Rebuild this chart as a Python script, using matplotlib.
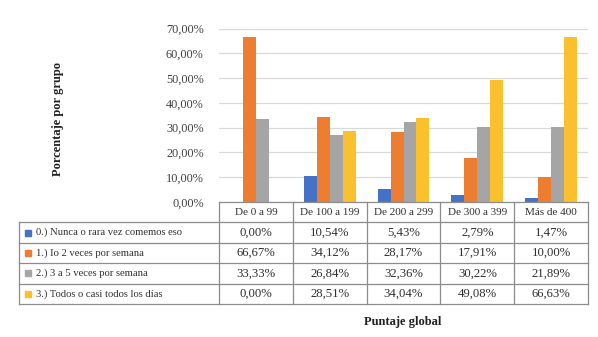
import matplotlib
matplotlib.use("Agg")
import matplotlib.pyplot as plt
import numpy as np

plt.rcParams['font.family'] = ['Liberation Serif', 'DejaVu Serif']

categories = ["De 0 a 99", "De 100 a 199", "De 200 a 299", "De 300 a 399", "Más de 400"]
series_names = ["0.) Nunca o rara vez comemos eso",
                "1.) Io 2 veces por semana",
                "2.) 3 a 5 veces por semana",
                "3.) Todos o casi todos los días"]
s0 = [0.00, 10.54, 5.43, 2.79, 1.47]
s1 = [66.67, 34.12, 28.17, 17.91, 10.00]
s2 = [33.33, 26.84, 32.36, 30.22, 21.89]
s3 = [0.00, 28.51, 34.04, 49.08, 66.63]
# bar heights as drawn in the picture (grey bar of last group is drawn at ~30%)
bar_s2 = [33.33, 26.84, 32.36, 30.22, 30.20]
table_values = [s0, s1, s2, s3]
bar_values = [s0, s1, bar_s2, s3]
yticks = [0, 10, 20, 30, 40, 50, 60, 70]
colors = ["#4472C4", "#ED7D31", "#A5A5A5", "#FBC02D"]

W, H = 598, 337
fig = plt.figure(figsize=(W / 100, H / 100), dpi=100)

# main chart
x0, x1 = 219, 588
ytop, ybot = 28.5, 202
ax = fig.add_axes([x0 / W, (H - ybot) / H, (x1 - x0) / W, (ybot - ytop) / H])
n = len(categories)
x = np.arange(n)
bw = 0.176
for i, vals in enumerate(bar_values):
    ax.bar(x + (i - 1.5) * bw, vals, width=bw, color=colors[i], zorder=3)
ax.set_xlim(-0.5, n - 0.5)
ax.set_ylim(0, 70)
ax.set_yticks(yticks)
ax.set_yticklabels([f"{v:.2f}".replace(".", ",") + "%" for v in yticks],
                   fontsize=8.8, color="#404040")
ax.tick_params(axis='y', length=0, pad=11)
ax.set_xticks([])
for s in ax.spines.values():
    s.set_visible(False)
ax.grid(axis='y', color="#D9D9D9", linewidth=0.9, zorder=0)
ax.set_axisbelow(True)

# table
tl, tr = 19, 588
ttop, tbot = 202, 304
tax = fig.add_axes([tl / W, (H - tbot) / H, (tr - tl) / W, (tbot - ttop) / H])
tax.set_xlim(0, tr - tl)
tax.set_ylim(tbot - ttop, 0)
tax.axis('off')
lc = "#8C8C8C"
lw = 0.9
catw = x0 - tl
colw = (tr - x0) / n
rowh = (tbot - ttop) / 5
# horizontal lines
tax.plot([catw, tr - tl], [0, 0], color=lc, lw=lw, clip_on=False)
for r in range(1, 6):
    tax.plot([0, tr - tl], [r * rowh, r * rowh], color=lc, lw=lw, clip_on=False)
# vertical lines
tax.plot([0, 0], [rowh, 5 * rowh], color=lc, lw=lw, clip_on=False)
for c in range(n + 1):
    xc = catw + c * colw
    tax.plot([xc, xc], [0, 5 * rowh], color=lc, lw=lw, clip_on=False)
txtc = "#303030"
for c, cat in enumerate(categories):
    tax.text(catw + (c + 0.5) * colw, 0.5 * rowh, cat, ha='center', va='center',
             fontsize=8, color=txtc)
for r, name in enumerate(series_names):
    yc = (r + 1.5) * rowh
    tax.add_patch(plt.Rectangle((5.5, yc - 3), 6, 6, color=colors[r], clip_on=False))
    tax.text(16.5, yc, name, ha='left', va='center', fontsize=7.7, color=txtc)
    for c in range(n):
        tax.text(catw + (c + 0.5) * colw, yc,
                 f"{table_values[r][c]:.2f}".replace(".", ",") + "%",
                 ha='center', va='center', fontsize=9.2, color=txtc)

fig.text(58 / W, 1 - 119 / H, "Porcentaje por grupo", rotation=90, ha='center',
         va='center', fontsize=9, fontweight='bold', color="#202020")
fig.text(403 / W, 1 - 322 / H, "Puntaje global", ha='center', va='center',
         fontsize=9, fontweight='bold', color="#202020")

fig.savefig("out.png", dpi=100, facecolor="white")
